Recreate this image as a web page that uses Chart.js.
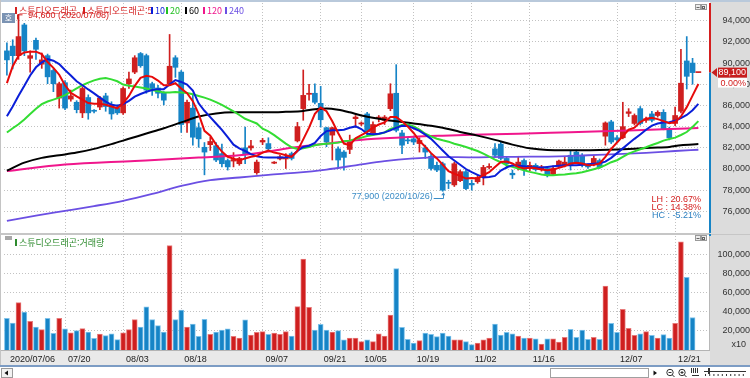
<!DOCTYPE html>
<html lang="ko"><head><meta charset="utf-8"><title>스튜디오드래곤</title>
<script src="https://cdn.jsdelivr.net/npm/chart.js@4.4.1/dist/chart.umd.min.js"></script>
<style>html,body{margin:0;padding:0;background:#fff;overflow:hidden}
#wrap{position:relative;width:750px;height:378px}
canvas{position:absolute;left:0;display:block}
#c1{top:0}#c2{top:234px}</style></head>
<body><div id="wrap"><canvas id="c1" width="750" height="234"></canvas><canvas id="c2" width="750" height="144"></canvas></div>
<script>
// ---------------- data ----------------
const dates = ['07/06','07/07','07/08','07/09','07/10','07/13','07/14','07/15','07/16','07/17','07/20','07/21','07/22','07/23','07/24','07/27','07/28','07/29','07/30','07/31',
'08/03','08/04','08/05','08/06','08/07','08/10','08/11','08/12','08/13','08/14','08/18','08/19','08/20','08/21','08/24','08/25','08/26','08/27','08/28','08/31',
'09/01','09/02','09/03','09/04','09/07','09/08','09/09','09/10','09/11','09/14','09/15','09/16','09/17','09/18','09/21','09/22','09/23','09/24','09/25','09/28','09/29',
'10/05','10/06','10/07','10/08','10/12','10/13','10/14','10/15','10/16','10/19','10/20','10/21','10/22','10/23','10/26','10/27','10/28','10/29','10/30',
'11/02','11/03','11/04','11/05','11/06','11/09','11/10','11/11','11/12','11/13','11/16','11/17','11/18','11/19','11/20','11/23','11/24','11/25','11/26','11/27','11/30',
'12/01','12/02','12/03','12/04','12/07','12/08','12/09','12/10','12/11','12/14','12/15','12/16','12/17','12/18','12/21','12/22','12/23','12/24','12/28'];

const open = [91150,91600,90700,93600,90450,92150,89900,90700,89300,86700,
88150,86600,86300,85300,86750,85500,85850,86900,86050,85750,
85300,88050,89150,90900,90700,88050,87650,87150,88050,90500,
89150,84350,85750,83900,82050,82300,82200,81450,80800,80750,
80500,82000,81990,79650,82550,82400,80550,80950,80950,81450,
82650,85700,87050,87150,86200,83900,83200,81900,81600,81850,
84750,84250,85200,83400,84750,84600,85700,87150,83400,82750,
82850,82400,82000,81200,80350,80500,78700,78500,78900,79750,
78650,78800,79250,80150,81900,82350,81000,79600,80200,80800,
80050,80350,79950,80050,79500,80250,80350,81300,81600,81300,
80350,80500,80800,83100,84450,82950,82950,85250,84300,85700,
84600,85200,85050,85350,83800,84300,85450,90200,90000,89100];

const high = [91900,92200,94600,93750,91150,92350,90950,90850,89450,88200,
88350,87450,86450,87750,87000,85600,86850,87150,86350,86050,
87750,89150,90700,91000,90850,88200,87900,87300,92700,90700,
89300,86500,86950,84350,82500,83000,82500,82350,80950,81550,
81100,83950,82700,80850,82900,82950,80700,81300,81450,81600,
84400,89350,88000,88050,87800,83950,83950,82100,81750,83200,
85050,84450,85350,84450,85050,85050,88050,89850,83650,82900,
83000,82950,82250,81450,80650,80650,78950,80650,79900,79900,
78950,79400,80350,80500,82400,82550,81150,79900,81200,80950,
80650,80500,80350,80200,80300,80850,81150,81750,81800,81450,
80500,81300,80950,84450,84600,83150,86300,85700,85200,85900,
84900,85450,85500,85600,83950,85850,91300,92500,90450,89100];

const low = [88850,89450,90350,90700,89150,90350,89500,88050,87300,85750,
85600,86400,85300,84850,84700,85300,85600,85450,84700,85150,
85150,87600,89000,89600,87150,86950,86700,86050,87900,88650,
83450,83450,82250,82050,79450,81750,80700,80200,79900,80200,
80350,80500,81770,79500,82300,81750,80500,80850,80050,80850,
82550,84600,86500,86150,83950,82100,80850,80050,79900,81450,
83950,84100,83200,83350,84450,84200,85500,83500,81450,82400,
82300,81600,81000,79900,79750,77900,78150,78350,78800,78050,
78000,78650,78500,80000,81150,80850,80050,79100,79900,79400,
79850,79800,79800,79250,79400,80150,80200,79900,80500,80200,
80050,80300,80050,82250,82400,82500,82850,84950,84150,84150,
84400,84450,84900,83700,82750,84100,85300,87550,88000,89100];

const close = [90300,90700,92500,91150,90700,91300,90300,88700,88050,88050,
85750,86900,85600,87600,85300,85450,86700,85900,85200,85300,
87600,88500,90500,89750,87450,87600,87150,86500,89700,89600,
84200,86300,83000,82850,81600,82600,80850,80500,80200,80900,
81000,81450,82180,80650,82700,81900,80650,81150,81100,81000,
84000,86950,87150,86300,84650,82550,83900,80850,81100,82550,
84900,84350,83500,84200,84900,84900,87100,83650,82250,82650,
82550,82700,81600,80050,79900,78000,78650,80500,79750,78150,
78500,79200,80150,80250,81300,81000,80500,79450,80650,79950,
80350,79950,80200,79400,80050,80750,80650,80350,80650,80350,
80200,81000,80150,84350,82550,82750,84000,85400,85050,84300,
84750,84600,85350,83800,82950,85050,88100,88750,89100,89100];

const volume = [33000,28000,49500,39700,30000,24000,21300,33000,17400,33000,
22000,18000,20200,22300,18800,12200,16700,15000,17000,10800,
18000,21300,31700,24000,45000,31700,25400,18800,109000,31700,
41800,24000,27200,14300,32000,16400,18800,20900,22000,14300,
12500,31400,15700,18500,19200,16400,17800,16400,19200,14600,
45300,95000,44600,20900,26800,20900,18800,20200,10500,12500,
12500,8700,10500,8700,17000,14600,36600,85000,23700,11100,
7300,9800,17800,16400,13900,17800,14600,10500,10500,8700,
5600,7300,10500,12500,27200,15700,18500,17000,14600,12500,
12500,11800,6300,11800,11800,8400,13200,21600,13200,20900,
11100,13200,11100,66900,27900,18500,42500,22600,15300,17000,
19200,15300,12500,16000,12500,27900,113000,76000,34000,0];

const ma5 = [88100,89700,90700,91000,91080,91080,90850,90100,89550,88900,
87900,87200,86850,86550,86230,86150,86150,86060,85900,85730,
86200,86900,87850,88600,88800,88700,88350,87900,87900,88100,
87600,87150,86400,85200,83600,83150,82300,81650,81150,80980,
80800,81000,81150,81250,81550,81750,81550,81450,81300,81150,
81700,82800,83900,85200,85800,85450,84500,83400,82400,82250,
82900,83200,83500,83900,84200,84400,84900,84900,84500,84000,
83400,82650,82100,81500,81000,80400,79800,79550,79350,79100,
79150,79110,79420,79700,80200,80670,80700,80520,80200,80050,
80140,80080,79950,79890,79950,80110,80270,80520,80580,80520,
80360,80390,80520,81140,81900,82500,83100,83710,83900,84430,
84740,84840,84710,84520,84330,84430,84960,85840,86930,88030];

const ma10 = [84980,85910,86920,87850,88830,89600,90060,90370,90220,89900,
89350,88830,88280,87910,87510,87140,86740,86370,86060,85970,
86120,86430,86830,87080,87290,87450,87540,87540,87970,88400,
88220,87970,87400,86200,85500,84900,84300,83700,83000,82300,
81950,81700,81400,81200,81110,81080,81080,81080,81110,81200,
81710,82080,82200,82460,83110,83580,83650,83650,83710,83900,
84020,83770,83330,83270,83330,83460,83650,83900,84080,84050,
83850,83600,83250,82850,82300,81750,81200,80800,80400,80000,
79700,79450,79200,79250,79350,79850,80150,80350,80300,80250,
80200,80150,80150,80200,80250,80300,80350,80350,80350,80400,
80450,80500,80550,80700,81050,81500,81950,82400,82850,83250,
83700,84100,84300,84400,84420,84550,84800,85100,85550,86150];

const ma20 = [83450,83850,84220,84680,85200,85690,86120,86370,86550,86740,
86980,87290,87600,87910,88150,88370,88520,88580,88460,88280,
87970,87850,87780,87690,87600,87450,87350,87230,87230,87260,
87230,87170,87050,86890,86740,86550,86310,86060,85750,85450,
85100,84740,84520,84300,83800,83550,83200,82800,82400,82050,
81900,81950,82080,82240,82330,82390,82430,82490,82610,82680,
82830,82960,83110,83210,83300,83450,83780,83950,84150,84210,
84020,83710,83330,83080,82860,82710,82580,82390,82240,82080,
81890,81700,81450,81170,80890,80640,80360,80200,80050,79890,
79730,79610,79480,79420,79420,79450,79480,79550,79610,79700,
79830,79980,80140,80360,80640,80830,81140,81450,81670,81860,
82050,82270,82460,82680,82830,82960,83210,83490,83960,84520];

// long averages read at sampled sessions (index into dates, value)
const ma60Idx = [0,3,6,9,12,15,18,21,24,27,30,33,36,39,42,45,48,51,53,55,57,59,61,64,67,70,73,75,78,81,84,87,90,93,96,99,102,105,108,111,114,116,119];
const ma60Val = [79850,80600,81050,81300,81550,81900,82350,82850,83350,83850,84400,84950,85250,85350,85350,85350,85400,85480,85650,85720,85600,85350,85050,84750,84500,84300,84080,83900,83500,83150,82750,82300,81950,81800,81780,81780,81800,81850,81920,82000,82080,82250,82350];
const ma120Idx = [0,10,22,33,40,45,49,56,62,70,75,80,88,97,107,113,119];
const ma120Val = [79800,80420,80760,81080,81300,81650,82000,82450,82800,83050,83150,83230,83330,83480,83640,83750,83870];
const ma240Idx = [0,5,10,15,20,25,30,35,40,45,50,55,60,65,70,75,80,85,90,95,100,105,110,115,119];
const ma240Val = [75100,75600,76050,76500,77000,77650,78400,78950,79200,79450,79650,79950,80350,80750,81000,81130,81100,81140,81160,81200,81300,81400,81530,81700,81820];

const axisLabels = ['2020/07/06','07/20','08/03','08/18','09/07','09/21','10/05','10/19','11/02','11/16','12/07','12/21'];
const priceTicks = [76000,78000,80000,82000,84000,86000,88000,90000,92000,94000];
const volumeTicks = [20000,40000,60000,80000,100000];
const lastPrice = 89100;
const lastChange = '0.00%';
const statLines = [['LH : 20.67%','#d42020'],['LC : 14.38%','#d42020'],['HC : -5.21%','#2a7fc0']];
const name = '스튜디오드래곤';

// ---------------- styling ----------------
const RED = '#cf1f1f', BLUE = '#1684c6';
const C = {ma5:'#e60a0a', ma10:'#0a1ed8', ma20:'#33dd33', ma60:'#000000', ma120:'#f0168c', ma240:'#6b4fe3'};
const NUMFONT = '"Liberation Sans",Arial,sans-serif';
const KRFONT = '"Noto Sans CJK KR","Noto Sans",sans-serif';
const GRID = '#c2c2c2';

const idx = dates.map((d, i) => i);
const up = close.map((c, i) => c >= open[i]);
const candleColor = up.map(u => u ? RED : BLUE);
const volBorder = up.map(u => u ? '#e77a7a' : '#7ec2ea');
const tickIdx = axisLabels.map(l => dates.indexOf(l.slice(-5)));
const pts = (xs, ys) => xs.map((x, i) => ({x: x, y: ys[i]}));
const fmt = v => Number(v).toLocaleString('en-US');
const X_MIN = -0.5, X_MAX = 120.83;

function xScale(show) {
  return {
    type: 'linear', min: X_MIN, max: X_MAX, offset: false,
    grid: {offset: false, drawTicks: false, lineWidth: 1,
      color: ctx => (ctx.tick && ctx.tick.value === 0) ? 'rgba(0,0,0,0)' : GRID},
    border: {display: false, dash: [1, 2]},
    ticks: show ? {display: true, autoSkip: false, maxRotation: 0, minRotation: 0, align: 'start',
      labelOffset: 3, padding: 4, color: '#222', font: {family: NUMFONT, size: 9},
      callback: v => axisLabels[tickIdx.indexOf(v)] || ''} : {display: false},
    afterBuildTicks: s => { s.ticks = tickIdx.map(v => ({value: v})); },
    afterFit: s => { s.height = show ? 15 : 0; s.paddingLeft = 0; s.paddingRight = 0; }
  };
}
function yScale(min, max, ticks, pad) {
  return {
    position: 'right', min: min, max: max,
    grid: {drawTicks: false, lineWidth: 1, color: GRID},
    border: {display: false, dash: [1, 2]},
    ticks: {color: '#333', font: {family: NUMFONT, size: 9}, padding: pad, crossAlign: 'far', callback: v => fmt(v)},
    afterBuildTicks: s => { s.ticks = ticks.map(v => ({value: v})); },
    afterFit: s => { s.width = 41; s.paddingTop = 0; s.paddingBottom = 0; }
  };
}
function txt(c, s, x, y, color, font, align) {
  c.save(); c.font = font; c.fillStyle = color; c.textAlign = align || 'left'; c.textBaseline = 'middle';
  c.fillText(s, x, y); c.restore();
}
function miniIcons(c, y) {
  c.save(); c.strokeStyle = '#9a9a9a'; c.fillStyle = '#ececec';
  [695, 701].forEach(x => { c.fillRect(x, y, 5, 5); c.strokeRect(x + 0.5, y + 0.5, 5, 5); });
  c.fillStyle = '#666'; c.fillRect(696.5, y + 3, 3, 1); c.strokeStyle = '#666'; c.strokeRect(702.5, y + 2.5, 2, 2);
  c.restore();
}

// ---------------- price chart ----------------
const chrome1 = {
  id: 'chrome1',
  beforeDraw(chart) {
    const c = chart.ctx;
    c.save();
    c.fillStyle = '#fff'; c.fillRect(0, 0, 750, 234);
    c.fillStyle = '#dcdcdc'; c.fillRect(710, 0, 40, 234);
    c.fillStyle = '#b9c9db'; c.fillRect(0, 0, 750, 2);
    c.fillStyle = '#c4c4c4'; c.fillRect(0, 0, 1, 234);
    c.fillStyle = '#c6c6c6'; c.fillRect(0, 233, 710, 1);
    c.restore();
  },
  afterDraw(chart) {
    const c = chart.ctx, a = chart.chartArea, xs = chart.scales.x, ys = chart.scales.y;
    const yp = ys.getPixelForValue(lastPrice);
    c.save();
    // right edge marker line
    c.fillStyle = '#d41e1e'; c.fillRect(709, a.top, 2, yp - a.top);
    c.fillStyle = '#1684c6'; c.fillRect(709, yp, 2, a.bottom - yp);
    // current price tag
    c.fillStyle = '#c81e1e';
    c.beginPath(); c.moveTo(711.5, yp); c.lineTo(717, yp - 4.5); c.lineTo(717, yp + 4.5); c.closePath(); c.fill();
    c.fillRect(718, yp - 5, 29, 10);
    c.fillStyle = '#fff'; c.fillRect(718, yp + 5.5, 29, 9.5);
    c.restore();
    txt(c, fmt(lastPrice), 746, yp, '#fff', '9px ' + NUMFONT, 'right');
    txt(c, lastChange, 746, yp + 10.5, '#d42020', '9px ' + NUMFONT, 'right');

    // legend
    const leg = [[15, name, '#d42020'], [83, name + ':5', '#d42020'], [151, '10', C.ma10], [166, '20', '#22c022'],
                 [185, '60', '#000'], [203, '120', C.ma120], [225, '240', C.ma240]];
    leg.forEach(([x, s, col]) => {
      c.fillStyle = col; c.fillRect(x, 7, 2, 7);
      txt(c, s, x + 4, 10.5, col, '9px ' + KRFONT, 'left');
    });
    // '호' button
    c.fillStyle = '#7b93b3'; c.fillRect(2, 13, 13, 10);
    txt(c, '호', 8.5, 18, '#fff', '8px ' + KRFONT, 'center');

    // high / low annotations
    const hi = Math.max(...high), hiI = high.indexOf(hi);
    const hx = xs.getPixelForValue(hiI), hy = ys.getPixelForValue(hi);
    c.save(); c.strokeStyle = '#d42020'; c.lineWidth = 1;
    c.beginPath(); c.moveTo(Math.round(hx) - 1.5, hy + 5); c.lineTo(Math.round(hx) - 1.5, hy + 0.5); c.lineTo(hx + 4, hy + 0.5); c.stroke();
    c.restore();
    txt(c, fmt(hi) + ' (2020/' + dates[hiI] + ')', hx + 9.5, hy + 1.5, '#d42020', '9px ' + NUMFONT, 'left');

    const lo = Math.min(...low), loI = low.indexOf(lo);
    const lx = xs.getPixelForValue(loI), ly = ys.getPixelForValue(lo);
    c.save(); c.strokeStyle = '#3b8cc6'; c.fillStyle = '#3b8cc6'; c.lineWidth = 1;
    c.beginPath(); c.moveTo(lx - 9, Math.round(ly) + 7.5); c.lineTo(Math.round(lx) + 0.5, Math.round(ly) + 7.5); c.lineTo(Math.round(lx) + 0.5, ly + 2); c.stroke();
    c.beginPath(); c.moveTo(Math.round(lx) + 0.5, ly + 1); c.lineTo(lx - 1.5, ly + 4); c.lineTo(lx + 2.5, ly + 4); c.closePath(); c.fill();
    c.restore();
    txt(c, fmt(lo) + ' (2020/' + dates[loI] + ')', lx - 10, ly + 5, '#3b8cc6', '9px ' + NUMFONT, 'right');

    // LH / LC / HC
    statLines.forEach(([s, col], k) => txt(c, s, 701, 200 + k * 8, col, '9px ' + NUMFONT, 'right'));
    miniIcons(c, 4);
  }
};

new Chart(document.getElementById('c1'), {
  type: 'bar',
  data: {
    labels: idx,
    datasets: [
      {type: 'line', label: 'MA5', data: ma5, borderColor: C.ma5, borderWidth: 2, pointRadius: 0, tension: 0, order: 0},
      {type: 'line', label: 'MA10', data: ma10, borderColor: C.ma10, borderWidth: 2, pointRadius: 0, tension: 0, order: 1},
      {type: 'line', label: 'MA20', data: ma20, borderColor: C.ma20, borderWidth: 2, pointRadius: 0, tension: 0, order: 2},
      {type: 'line', label: 'MA60', data: pts(ma60Idx, ma60Val), borderColor: C.ma60, borderWidth: 2, pointRadius: 0, cubicInterpolationMode: 'monotone', order: 3},
      {type: 'line', label: 'MA120', data: pts(ma120Idx, ma120Val), borderColor: C.ma120, borderWidth: 2, pointRadius: 0, cubicInterpolationMode: 'monotone', order: 4},
      {type: 'line', label: 'MA240', data: pts(ma240Idx, ma240Val), borderColor: C.ma240, borderWidth: 1.8, pointRadius: 0, cubicInterpolationMode: 'monotone', order: 5},
      {type: 'bar', label: 'body', data: open.map((o, i) => [o, close[i]]), backgroundColor: candleColor,
        grouped: false, categoryPercentage: 1, barPercentage: 1, maxBarThickness: 5, minBarLength: 1, order: 6},
      {type: 'bar', label: 'wick', data: low.map((l, i) => [l, high[i]]), backgroundColor: candleColor,
        grouped: false, categoryPercentage: 1, barPercentage: 1, maxBarThickness: 1, order: 7}
    ]
  },
  options: {
    responsive: false, animation: false, devicePixelRatio: 1, events: [],
    layout: {padding: {left: 4, right: 0, top: 3, bottom: 1}},
    plugins: {legend: {display: false}, tooltip: {enabled: false}},
    scales: {x: xScale(false), y: yScale(73960, 95670, priceTicks, 10.5)}
  },
  plugins: [chrome1]
});

// ---------------- volume chart ----------------
const chrome2 = {
  id: 'chrome2',
  beforeDraw(chart) {
    const c = chart.ctx;
    c.save();
    c.fillStyle = '#fff'; c.fillRect(0, 0, 750, 144);
    c.fillStyle = '#dcdcdc'; c.fillRect(710, 0, 40, 131);
    c.fillStyle = '#e9e9e9'; c.fillRect(0, 116, 710, 15);
    c.fillStyle = '#b4b4b4'; c.fillRect(0, 116, 710, 1);
    c.fillStyle = '#c6c6c6'; c.fillRect(0, 0, 750, 1);
    c.fillStyle = '#c4c4c4'; c.fillRect(0, 0, 1, 131);
    c.fillStyle = '#7c9cc4'; c.fillRect(0, 131, 750, 2);
    c.restore();
  },
  afterDraw(chart) {
    const c = chart.ctx;
    c.save();
    c.fillStyle = '#b8b8b8'; c.fillRect(709, 2, 1, 114);
    c.fillStyle = '#1684c6'; c.fillRect(709, 0, 2, 2);
    // legend
    c.fillStyle = '#a8a8a8'; c.fillRect(5, 2, 7, 4);
    c.fillStyle = '#2e8b2e'; c.fillRect(15, 5, 2, 7);
    c.restore();
    txt(c, name + ':거래량', 19, 8.5, '#2e8b2e', '9px ' + KRFONT, 'left');
    txt(c, 'x10', 746, 111, '#333', '9px ' + NUMFONT, 'right');
    miniIcons(c, 1);
    // scroll bar
    c.save();
    c.fillStyle = '#f2f2f2'; c.fillRect(1, 134, 11, 9);
    c.strokeStyle = '#9a9a9a'; c.strokeRect(1.5, 134.5, 11, 9);
    c.fillStyle = '#111'; c.beginPath(); c.moveTo(4.5, 139); c.lineTo(8, 136.5); c.lineTo(8, 141.5); c.closePath(); c.fill();
    c.strokeStyle = '#a0a0a0'; c.strokeRect(550.5, 134.5, 98, 9);
    c.fillStyle = '#111'; c.beginPath(); c.moveTo(657, 139); c.lineTo(653.5, 136.5); c.lineTo(653.5, 141.5); c.closePath(); c.fill();
    c.strokeStyle = '#333'; c.lineWidth = 1;
    [670, 682].forEach((x, k) => {
      c.beginPath(); c.arc(x, 138.5, 3.2, 0, Math.PI * 2); c.stroke();
      c.beginPath(); c.moveTo(x - 1.5, 138.5); c.lineTo(x + 1.5, 138.5);
      if (k) { c.moveTo(x, 137); c.lineTo(x, 140); }
      c.moveTo(x + 2.3, 140.8); c.lineTo(x + 4.5, 143); c.stroke();
    });
    c.fillStyle = '#333';
    for (let k = 0; k < 4; k++) c.fillRect(691 + k * 2, 134, 1, 5);
    c.fillRect(692, 141, 7, 1);
    c.fillRect(704, 137, 42, 1); c.fillRect(708, 134, 2, 6);
    for (let k = 0; k < 10; k++) c.fillRect(705 + k * 4.2, 140, 1, 2);
    c.restore();
  }
};

new Chart(document.getElementById('c2'), {
  type: 'bar',
  data: {
    labels: idx,
    datasets: [{label: '거래량', data: volume, backgroundColor: candleColor, borderColor: volBorder, borderWidth: 1,
      categoryPercentage: 1, barPercentage: 1, maxBarThickness: 5}]
  },
  options: {
    responsive: false, animation: false, devicePixelRatio: 1, events: [],
    layout: {padding: {left: 4, right: 0, top: 2, bottom: 13}},
    plugins: {legend: {display: false}, tooltip: {enabled: false}},
    scales: {x: xScale(true), y: yScale(0, 119100, volumeTicks, 1)}
  },
  plugins: [chrome2]
});
</script></body></html>
